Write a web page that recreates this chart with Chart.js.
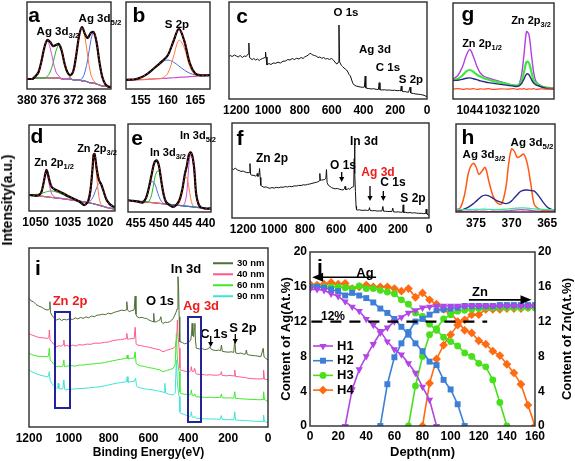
<!DOCTYPE html>
<html>
<head>
<meta charset="utf-8">
<script src="https://cdn.jsdelivr.net/npm/chart.js@4.4.1/dist/chart.umd.min.js"></script>
<style>
  html, body { margin: 0; padding: 0; background: #fff; }
  #stage { position: relative; width: 575px; height: 461px; overflow: hidden;
           font-family: "Liberation Sans", Arial, sans-serif; font-weight: bold; color: #000; }
  #stage canvas { position: absolute; }
  .lbl { position: absolute; white-space: nowrap; line-height: 1; transform: translate(-50%, -50%); }
  .lbl sub { font-size: 68%; vertical-align: baseline; position: relative; top: 0.4em; }
  .leg { position: absolute; left: 213px; font-size: 9.5px; line-height: 1; white-space: nowrap; transform: translateY(-50%); }
  .leg span { display: inline-block; width: 20px; border-top: 2px solid; vertical-align: middle; margin-right: 4px; }
  #marks { position: absolute; left: 0; top: 0; }
</style>
</head>
<body>
<div id="stage"></div>
<script>
// ---------- panel a : Ag 3d fit ----------
const aEnergy = [380,379.5,379,378.5,378,377.5,377,376.5,376,375.5,375,374.5,374,373.5,373,372.5,372,371.5,371,370.5,370,369.5,369,368.5,368,367.5,367,366.5,366,365.5];
const aEnvelope = [10,10,10.3,13,17,28,41.5,49,47,43,44,45,38,25,16.5,14,18,34,53.5,62,55,51,56,57,47,27,12,5,2.5,2];
const aBackground = [10,10,10,11,11,11,11,11,11,11,11,11,10,10,10,10,9,9,9,8,8,7,6,6,5,4,3,3,2,2];
const aMagenta = [10,10,10,13,17,28,41,48,41,28,17,13,10.5,10,10,10,9,9,9,8,8,7,6,6,5,4,3,3,2,2];
const aGreen = [10,10,10,11,11,11,11,12.5,17,26,38,44,37,25,16,11.5,9,9,9,8,8,7,6,6,5,4,3,3,2,2];
const aOrange = [10,10,10,11,11,11,11,11,11,11,11,11,10,10,10.4,12.4,18,34,53,62,52,32,15,8.4,5.4,4,3,3,2,2];
const aBlue = [10,10,10,11,11,11,11,11,11,11,11,11,10,10,10,10,9,9,9.4,10.2,17,30,48,57,47,27,12,5.2,2.4,2];

// ---------- panel b : S 2p fit ----------
const bEnergy = [152,153,154,155,156,157,158,159,160,161,162,163,164,165,166,167,168];
const bEnvelope = [10.1,10.3,10.8,12.8,15.9,20.6,25.8,31,37.6,52.7,66.4,52.8,28.4,17.1,15.1,15.1,15.5];
const bBlue = [10.1,10.3,10.8,12.8,15.9,20.6,25.8,30.4,31.9,29.7,25.4,20.8,17.4,15.5,15,15.1,15.5];
const bOrange = [10,10,10,10.3,10.6,11,11.3,12.2,17.7,35.4,53.8,45.2,24.6,15.6,14.6,15,15.5];
const bMagenta = [10,10,10,10.3,10.6,11,11.3,11.6,12,12.4,12.8,13.2,13.6,14,14.5,15,15.5];

// ---------- panel c : survey [eV, counts] ----------
const cSurvey = [[1250,42],[1238,43.5],[1226,42.5],[1212,44],[1200,43],[1188,42],[1176,43.5],[1162,41.5],[1150,43],[1138,42.5],[1131,44],[1125,45],[1121,56],[1117,42],[1112,40.5],[1100,39.5],[1090,40.5],[1078,39],[1066,40],[1056,38.5],[1046,39.7],[1036,40.5],[1026,41],[1019,41.7],[1016,47],[1013,42],[1007,34],[995,35.5],[982,34.5],[968,36],[952,35.7],[938,36.8],[922,36],[906,37.8],[890,38],[876,39.5],[862,39],[848,40.5],[834,39.5],[820,40.8],[806,40],[792,41.5],[780,40.5],[770,42],[758,43],[746,44],[736,45.8],[728,45],[718,44],[708,43.5],[698,43],[686,41.5],[674,42],[662,40.7],[650,41.5],[638,40],[626,40.5],[614,39.5],[602,40.5],[594,39.7],[584,38],[574,35.7],[566,35],[558,37],[554,74],[550,37.3],[544,35],[538,33.5],[530,32.3],[522,31],[514,30],[506,29],[498,27],[490,24.5],[482,23],[474,19],[466,15.7],[458,14],[446,13],[434,12.5],[420,12],[404,11.7],[394,12],[389,23],[385,11],[379,10.7],[366,10.5],[352,10],[336,10.3],[320,9.7],[306,9.5],[301,16.3],[296,9.2],[284,9],[268,9.3],[252,8.8],[236,9],[220,8.6],[204,8.8],[188,8.3],[174,8.5],[166,8],[162,13],[158,8],[152,7.3],[140,7.5],[128,7],[116,6.8],[106,12],[102,6],[97,5.7],[84,5.5],[70,5],[56,4.8],[42,4.5],[25,4],[12,3.2],[0,2.3]];

// ---------- panel d : Zn 2p fit ----------
const dEnergy = [1053,1051,1049,1047.5,1046.5,1045.5,1045,1044.5,1043.5,1042.5,1041,1039,1037,1035,1033,1031,1029,1027.5,1026.5,1025.5,1024.5,1023.5,1023,1022.5,1021.5,1020.5,1019.5,1018.5,1017,1015.5,1014,1013];
const dEnvelope = [16,15.6,15.5,18,26,37,41,39,30,24,21.5,19.5,17.5,15,13,11,8.5,6,7,10,20,42,56,57,42,31,27,21,11.5,7,4.6,4];
const dBackground = [16,15.6,15.2,14.8,14.6,14.3,14.2,14,13.8,13.5,13.2,12.7,12.2,11.6,11,10.3,9.6,9,8.7,8.4,8,7.5,7.2,7,6.4,5.8,5.2,4.6,3.7,2.8,2.2,2];
const dMagenta = [16,15.6,15.2,17.5,26,36.5,37.7,35,25,17,13.8,12.7,12.2,11.6,11,10.3,9.6,9,8.7,8.4,8,7.5,7.2,7,6.4,5.8,5.2,4.6,3.7,2.8,2.2,2];
const dGreen = [16,16.3,16.8,17.5,18.2,18.8,19.2,19.5,19.9,20,19.5,18,16,13.8,12,10.8,9.8,9.1,8.7,8.4,8,7.5,7.2,7,6.4,5.8,5.2,4.6,3.7,2.8,2.2,2];
const dOrange = [16,15.6,15.2,14.8,14.6,14.3,14.2,14,13.8,13.5,13.2,12.7,12.2,11.6,11,10.3,9.6,9,8.7,9,16,38,52,54,34,14,6.5,4.8,3.7,2.8,2.2,2];
const dBlue = [16,15.6,15.2,14.8,14.6,14.3,14.2,14,13.8,13.5,13.2,12.7,12.2,11.6,11,10.3,9.6,9,8.7,8.6,10,13,15,18,23.5,27.5,26,20,11,6,3,2.2];

// ---------- panel e : In 3d fit ----------
const eEnergy = [456.7,455.5,454.5,453.5,452.8,452.2,451.6,451,450.5,450,449.5,449,448.5,447.8,447,446.3,445.6,445,444.5,444,443.6,443.2,442.8,442.4,442,441.5,441,440,439,438.8];
const eEnvelope = [11.5,11,10.2,9.5,14,24,37,49,51,45,30,17,10,7,5,7,12,22,36,46,56,59,55,42,18,8,4.5,3.3,3.6,4];
const eBackground = [11.5,11,10.6,10.2,9.9,9.6,9.3,9,8.8,8.6,8.3,8.1,7.8,7.5,7.1,6.8,6.5,6.2,5.9,5.7,5.5,5.3,5.1,4.9,4.7,4.4,4.2,3.6,3,2.9];
const eBlue = [11.5,11,10.6,11,15,24,30,28.5,22,15,10.5,8.5,7.8,7.5,7.1,6.8,6.5,6.2,5.9,5.7,5.5,5.3,5.1,4.9,4.7,4.4,4.2,3.6,3,2.9];
const eGreen = [11.5,11,10.6,10.2,9.9,10.5,17,32,40,40,29,16,10,8,7.1,6.8,6.5,6.2,5.9,5.7,5.5,5.3,5.1,4.9,4.7,4.4,4.2,3.6,3,2.9];
const eOrange = [11.5,11,10.6,10.2,9.9,9.6,9.3,9,8.8,8.6,8.3,8.1,7.8,7.5,7.1,6.8,9,20,33,34,25,14,7,4.9,4.7,4.4,4.2,3.6,3,2.9];
const eMagenta = [11.5,11,10.6,10.2,9.9,9.6,9.3,9,8.8,8.6,8.3,8.1,7.8,7.5,7.1,6.8,6.5,6.2,8,20,45,57,53,38,16,6,4.2,3.6,3,2.9];

// ---------- panel f : survey [eV, counts] ----------
const fSurvey = [[1275,50],[1262,49],[1250,50.5],[1238,48.5],[1226,48],[1214,47],[1200,47.5],[1188,46.5],[1176,46],[1168,45.7],[1160,46],[1156,55],[1152,44],[1144,43.3],[1130,43],[1118,42.3],[1112,43],[1109,45],[1105,42],[1098,43],[1094,50],[1090,41],[1086,33],[1080,32.3],[1066,31],[1052,31.5],[1040,30.5],[1028,30],[1014,30.8],[1000,30.2],[986,31],[970,30.5],[956,31.3],[942,31],[928,31.8],[914,31.3],[900,32],[886,31.6],[870,32.5],[856,32.3],[842,33],[826,32.8],[812,33.6],[798,33.3],[784,34],[770,34.3],[756,35],[742,35.5],[728,36],[716,36.7],[708,37.5],[705,45],[701,38],[695,38.3],[684,38.5],[673,39],[666,40],[662,49],[658,36],[651,33.3],[640,32],[630,30.8],[619,30],[606,29.5],[592,29.8],[576,29],[566,28.6],[555,28.3],[546,29.5],[542,32],[538,28.8],[528,29],[518,29.8],[512,29],[504,30.5],[496,31],[490,31.7],[486,32.5],[483,60],[481,75],[478,45],[475,26.7],[471,12],[468,8.3],[460,8],[448,8.3],[438,7.8],[426,7.7],[412,8],[398,7.6],[388,8],[384,10.5],[380,7.6],[366,7.3],[350,7.5],[334,7],[318,7.2],[304,7],[298,11.7],[293,6.8],[280,6.9],[266,6.5],[252,6.7],[240,6.4],[234,10],[229,6.2],[214,6],[198,6.2],[182,5.8],[170,6],[167,13.3],[163,5.5],[150,5.7],[136,5.2],[122,5.5],[108,5],[94,5.3],[82,5],[66,4.7],[50,4.8],[36,4.4],[22,4.5],[18,9],[14,4],[6,3.2],[0,2.3]];

// ---------- panel g : Zn 2p depth ----------
const gEnergy = [1051,1049,1047,1045.5,1044,1042.5,1041,1039.5,1038,1036,1034,1031,1028,1025.5,1024,1023,1022,1021,1020,1019,1018,1017,1016,1014,1012,1010,1008.4];
const gMagenta = [20,24,33,44,50,43,33,26,23,21,19.5,17.5,15.5,14,13.7,16,26,47,68,65,46,27,17.7,13.5,12,11.5,11];
const gGreen = [19.3,20.5,24,28,29.3,27.5,24.5,22.7,21,19.5,18,16.5,15,13.8,13.3,14.5,19,28,37.5,36.5,28,19,16,13,11.5,10.5,10];
const gNavy = [18.7,19,20,21,21.3,20.5,19.5,18.3,17.5,16.5,15.8,14.8,13.8,13,12.7,13.5,16,20.5,25.3,24.5,20,16,14.3,12.5,11,10.5,10];
const gRed = [10,10.5,9.8,10.3,10,10.5,9.8,10.2,10,10.4,9.7,10.2,10,10.4,9.8,10.3,10,10.5,9.7,10.2,10,10.4,9.8,10.3,9.9,10.2,10];

// ---------- panel h : Ag 3d depth ----------
const hEnergy = [377.8,377.2,376.6,376,375.4,375,374.6,374.2,373.7,373.2,372.6,372,371.4,370.8,370.4,370,369.6,369.2,368.8,368.3,367.8,367.3,366.8,366.2,365.6,365,364.4,363.9];
const hOrange = [2.3,4,17,40,48,45,37.3,40,44,30.7,15.7,9,8,24,48,62.3,60,54,55,57.3,48,28,7.3,3,1.8,1.3,1,0.7];
const hNavy = [0.7,1.5,3,5,8,10.5,13,15.5,16.7,16,13.5,11,9.5,8.3,9,11,14,17,20,21.5,21.7,21.2,20.7,16,10,5,2.5,2];
const hGreen = [2.3,2.5,2.2,2.6,2.4,2.8,2.5,2.9,2.7,2.6,2.4,2.3,2.6,2.8,3,3.3,3.6,3.9,4,4.1,3.8,3.4,3,2.7,2.5,2.4,2.3,2.3];
const hMagenta = [0.5,0.8,0.3,0.9,0.6,1,0.5,0.9,0.7,0.4,0.8,0.5,0.9,1,1.2,1.5,1.8,2,2.3,2.2,2,1.6,1.2,0.8,0.5,0.3,0.6,0.4];

// ---------- panel i : surveys at depth [eV, counts] ----------
const iNames = ['30 nm', '40 nm', '60 nm', '90 nm'];
const iColors = ['#4f6e36', '#ff5a8c', '#3fea2a', '#3fe3d3'];
const i30 = [[1200,71.9],[1190,70.5],[1178,70],[1165,68.5],[1150,67.5],[1138,67],[1128,66.3],[1115,65.5],[1103,65.4],[1098,66],[1095,70],[1092,64],[1086,62.6],[1075,61],[1061,59.8],[1048,60.5],[1036,59.5],[1024,60.2],[1011,59.8],[996,60.5],[982,60],[968,61],[955,60.4],[942,61.2],[928,60.7],[914,61.5],[900,61],[886,62],[872,61.6],[858,62.5],[844,62.6],[830,63],[816,62.8],[802,63.6],[788,63.2],[774,64],[761,64.4],[748,64.8],[736,65.3],[722,65],[712,65.4],[709,70],[705,65.5],[697,64.4],[685,65],[672,65.4],[667,73.2],[663,63],[657,61.6],[645,61],[632,61.3],[620,60.7],[610,60.7],[598,59.8],[586,59.2],[577,58.8],[574,63.5],[570,58.6],[560,58.8],[550,59.5],[543,59.8],[538,61.6],[534,58.5],[527,57.9],[516,58.5],[505,58.4],[493,58.8],[483,59.8],[476,60.7],[470,62],[462,64],[456,66],[452,84],[449,78],[446,61.6],[443,47.7],[430,47.2],[420,46.5],[410,46.7],[398,47.5],[388,48.5],[384,52],[381,57.9],[377,51],[373,50.4],[370,55],[367,57.9],[364,48],[360,44],[345,43.6],[330,43.8],[318,43.2],[309,43.4],[298,43.8],[292,44.9],[286,43.5],[276,43],[262,42.7],[248,43],[238,42.6],[234,45.8],[229,42.2],[215,42],[200,41.8],[185,42],[172,41.7],[167,48.6],[162,41.4],[150,41],[136,41.3],[122,40.7],[112,40.8],[109,43],[104,40.5],[94,40.2],[80,40],[64,39.8],[50,39.6],[36,39.3],[24,44],[20,39.2],[12,38.4],[0,37.4]];
const i40 = [[1200,52.3],[1188,51.5],[1175,51],[1160,50.3],[1145,50],[1130,49.8],[1115,49.6],[1105,49.5],[1100,50],[1098,54.2],[1094,48.5],[1086,47.7],[1075,46],[1061,44.9],[1048,45.5],[1040,45],[1032,45.8],[1028,46],[1025,48.6],[1022,45.2],[1010,45.5],[995,45],[980,45.8],[965,45.2],[950,46],[928,45.8],[910,46.3],[890,46.2],[870,46.8],[844,46.8],[820,47.3],[800,47.5],[780,48.2],[761,48.6],[740,48.8],[720,49.2],[712,49.5],[709,52.3],[705,49],[690,49.3],[672,49.5],[667,55.7],[662,46.5],[657,45.8],[640,45.5],[620,45],[600,44.6],[577,44],[560,43.5],[545,43.2],[527,42],[510,42.8],[490,43.5],[476,44],[465,45],[458,50],[455,59.8],[451,50],[446,44],[442,33],[440,31.8],[425,31.4],[410,31],[393,30.9],[388,31.5],[385,33.7],[381,31],[372,31.2],[368,32.8],[364,30.5],[360,29.6],[340,29.4],[320,29.2],[309,29],[290,29.2],[270,28.9],[250,29],[238,29.3],[234,30.9],[230,28.8],[210,28.6],[190,28.8],[170,28.5],[167,31.8],[163,28.2],[150,28.1],[130,27.8],[112,27.6],[100,27.2],[80,27],[60,26.9],[40,26.8],[25,27],[22,31.8],[18,26.7],[13,26.6],[0,26.3]];
const i60 = [[1200,41.2],[1188,40.5],[1175,40],[1160,39.6],[1145,39.3],[1130,39.4],[1111,39.3],[1102,39.6],[1098,44],[1094,37.5],[1086,36.5],[1075,35],[1061,33.7],[1050,34],[1040,33.6],[1030,34],[1025,37.4],[1022,33.8],[1010,34],[990,34.3],[970,34],[950,34.6],[928,34.6],[905,35],[880,35.2],[860,35.5],[844,35.6],[820,36],[800,36.5],[780,37],[761,37.4],[740,37.8],[720,38.2],[710,38.4],[707,40.2],[703,38],[690,38.3],[672,38.5],[667,42],[662,35.5],[657,35],[640,34.2],[620,33.8],[600,33.2],[577,32.8],[560,32.3],[545,32],[527,30.9],[510,31.5],[490,32.2],[476,32.8],[466,35],[460,52.3],[456,40],[450,33],[446,31],[442,19.5],[440,18.8],[425,18.4],[410,18.2],[393,17.9],[388,18.5],[385,20.7],[381,17.8],[372,17.6],[368,18.5],[364,17.2],[360,16.9],[340,16.7],[320,16.6],[309,16.5],[290,16.6],[270,16.4],[250,16.5],[238,16.6],[234,18.5],[230,16.3],[210,16.2],[190,16.3],[172,16.1],[167,19.7],[163,16],[150,15.9],[130,15.7],[112,15.6],[100,15.5],[80,15.4],[60,15.3],[40,15.2],[25,15.4],[22,19.7],[18,15.2],[13,15.1],[0,14.1]];
const i90 = [[1200,31.8],[1188,31],[1175,30.3],[1160,29.6],[1145,29],[1130,28.6],[1111,28.1],[1102,28.4],[1098,30.9],[1094,26],[1086,24.4],[1075,23],[1061,21.6],[1056,22],[1053,24.4],[1050,21.5],[1040,21.2],[1030,21.4],[1025,26.3],[1021,21],[1018,20.7],[1000,21],[980,21.2],[955,21.4],[928,21.6],[900,21.8],[870,22.2],[844,22.5],[820,23],[800,23.5],[780,24],[761,24.4],[740,24.8],[720,25.1],[710,25.3],[707,28.1],[703,25],[690,25.3],[672,25.5],[665,27.2],[660,23],[657,22.5],[640,21.8],[620,21.3],[600,21],[577,20.7],[560,20.3],[545,20],[527,19.5],[522,19.3],[518,24.4],[514,19],[500,18.4],[490,18.2],[476,17.9],[466,19],[460,37.4],[455,25],[450,19],[446,17],[442,8.5],[440,7.7],[425,7.2],[410,6.5],[393,5.8],[388,6.3],[385,8.5],[381,5.5],[372,5.3],[368,6],[364,5.1],[360,4.9],[340,4.7],[320,4.6],[300,4.5],[280,4.5],[260,4.4],[240,4.3],[234,6.4],[230,4.2],[210,4.1],[190,4.1],[172,4],[167,8.5],[163,3.9],[150,3.8],[130,3.7],[112,3.6],[100,3.5],[80,3.3],[60,3.2],[40,3.1],[25,3.1],[22,6.7],[18,3],[13,3],[0,2.4]];

// ---------- panel j : depth profiles (At.%) ----------
const depth = [0,5,10,15,20,25,30,35,40,45,50,55,60,65,70,75,80,85,90,95,100,105,110,115,120,125,130,135,140,145,150,155,160];
const h1Ag = [15.7,15.7,15.6,15.2,14.9,14.3,13.7,13.2,12.3,11.6,10.9,9.7,8.8,8.2,7.2,6.1,4.5,3.0,0,null,null,null,null,null,null,null,null,null,null,null,null,null,null];
const h1Zn = [null,null,null,null,null,0,4.2,6.5,8.0,9.4,10.7,11.3,12.0,12.5,13.0,13.3,13.6,13.7,13.8,13.8,13.8,13.8,13.8,13.8,13.8,13.8,13.8,13.8,13.8,13.8,13.8,13.8,13.8];
const h2Ag = [16.0,16.0,15.9,15.7,15.5,15.0,15.3,15.0,14.7,14.2,13.5,13.0,12.3,11.4,10.5,9.5,8.6,7.4,7.0,5.3,4.2,2.5,0,null,null,null,null,null,null,null,null,null,null];
const h2Zn = [null,null,null,null,null,null,null,null,null,null,0,4.8,7.9,9.5,10.8,12.0,12.3,12.8,13.3,13.4,13.5,13.6,13.8,13.8,13.8,13.8,13.8,13.9,13.9,13.9,13.9,13.9,13.9];
const h3Ag = [16.0,16.0,16.0,16.0,16.0,15.9,15.8,16.1,15.8,15.8,15.6,15.4,15.2,14.5,14.0,13.0,12.6,11.7,11.0,10.2,9.7,9.2,8.4,8.0,7.2,6.8,5.3,2.7,0,null,null,null,null];
const h3Zn = [null,null,null,null,null,null,null,null,null,null,null,null,null,null,0,4.6,8.0,10.5,11.2,12.3,12.8,13.2,13.3,13.4,13.5,13.6,13.6,13.6,13.6,13.6,13.6,13.6,13.6];
const h4Ag = [16.3,16.2,16.3,16.5,16.3,16.4,15.8,16.0,16.2,16.0,16.0,16.0,15.8,15.5,15.8,14.8,15.3,14.5,14.0,13.4,13.0,12.0,11.0,10.7,9.8,9.4,8.6,8.1,7.1,6.1,4.8,2.4,0];
const h4Zn = [null,null,null,null,null,null,null,null,null,null,null,null,null,null,null,null,0,4.9,7.7,9.3,10.5,11.6,12.2,12.8,12.8,13.4,13.4,13.4,13.5,13.5,13.5,13.6,13.6];
const threshold = 12;
const thresholdSpan = [1, 126];

// ---------- tick labels ----------
const aTicks = [380, 376, 372, 368];
const bTicks = [155, 160, 165];
const surveyTicks = [1200, 1000, 800, 600, 400, 200, 0];
const dTicks = [1050, 1035, 1020];
const eTicks = [455, 450, 445, 440];
const gTicks = [1044, 1032, 1020];
const hTicks = [375, 370, 365];

// ================= drawing =================
Chart.defaults.font.family = '"Liberation Sans", Arial, sans-serif';
Chart.defaults.font.weight = 'bold';
Chart.defaults.color = '#000';

const stage = document.getElementById('stage');
const plainNumber = v => String(v); // no thousands separator

const frame = {
  id: 'frame',
  afterDatasetsDraw(chart) {
    const a = chart.chartArea, ctx = chart.ctx;
    ctx.save();
    ctx.strokeStyle = '#2b2b2b';
    ctx.lineWidth = 1.4;
    ctx.strokeRect(a.left, a.top, a.right - a.left, a.bottom - a.top);
    ctx.restore();
  }
};

function pts(xs, ys) { return xs.map((x, k) => ({ x: x, y: ys[k] })); }
function pairs(list) { return list.map(p => ({ x: p[0], y: p[1] })); }
function curve(data, color, width, more) {
  return Object.assign({ data: data, borderColor: color, borderWidth: width, pointRadius: 0, tension: 0.35, fill: false }, more || {});
}
// fitted XPS peak: envelope on top (black + red dots), then components, then background
function fitSets(xs, env, parts, bg, bgColor) {
  const sets = [
    curve(pts(xs, env), '#e8242a', 1, { borderDash: [1.5, 2.5] }),
    curve(pts(xs, env), '#000', 2.2)
  ];
  parts.forEach(p => sets.push(curve(pts(xs, p[0]), p[1], 1)));
  sets.push(curve(pts(xs, bg), bgColor || '#30308f', 1.2));
  return sets;
}

function addPanel(o) {
  const padL = o.padL ?? 22, padR = o.padR ?? 22, padT = o.padT ?? 4, axisH = o.axisH ?? 20;
  const [l, t, r, b] = o.box;
  const cv = document.createElement('canvas');
  cv.width = r - l + padL + padR;
  cv.height = b - t + padT + axisH;
  cv.style.left = (l - padL) + 'px';
  cv.style.top = (t - padT) + 'px';
  stage.appendChild(cv);
  const xScale = {
    type: 'linear', min: o.xRange[0], max: o.xRange[1], reverse: !!o.reverse,
    grid: { display: false, drawTicks: false }, border: { display: false },
    ticks: { font: { size: o.tickSize || 12, weight: 'bold' }, padding: o.tickPad ?? 4, maxRotation: 0, autoSkip: false,
             callback: plainNumber },
    afterBuildTicks: s => { s.ticks = o.ticks.map(v => ({ value: v })); },
    afterFit: s => { s.height = axisH; }
  };
  if (o.title) {
    xScale.title = { display: true, text: o.title, font: { size: 12, weight: 'bold' }, padding: { top: 0, bottom: 1 } };
  }
  return new Chart(cv, {
    type: 'line',
    data: { datasets: o.datasets },
    options: {
      responsive: false, animation: false, events: [],
      layout: { padding: { left: padL, right: padR, top: padT, bottom: 0 } },
      plugins: { legend: { display: false }, tooltip: { enabled: false } },
      scales: { x: xScale, y: { display: false, min: 0, max: o.yMax } }
    },
    plugins: [frame]
  });
}

// a
addPanel({ box: [27, 2, 111, 89], xRange: [365.5, 380], reverse: true, ticks: aTicks, yMax: 87,
  datasets: fitSets(aEnergy, aEnvelope, [[aMagenta, '#d14fd1'], [aGreen, '#23b323'], [aOrange, '#ff7a3a'], [aBlue, '#4a6ee0']], aBackground) });
// b
addPanel({ box: [126, 2, 210, 89], xRange: [152.3, 167.7], ticks: bTicks, yMax: 96,
  datasets: fitSets(bEnergy, bEnvelope, [[bOrange, '#ff7a3a'], [bBlue, '#4a6ee0']], bMagenta, '#d14fd1') });
// c
addPanel({ box: [229, 2, 427, 99], xRange: [0, 1246], reverse: true, ticks: surveyTicks, yMax: 97,
  datasets: [curve(pairs(cSurvey), '#111', 1, { tension: 0 })] });
// g
addPanel({ box: [453, 3, 554, 99], xRange: [1008.4, 1051.1], reverse: true, ticks: gTicks, yMax: 97,
  datasets: [curve(pts(gEnergy, gRed), '#ff4a1e', 1.2), curve(pts(gEnergy, gNavy), '#27278a', 1.4),
             curve(pts(gEnergy, gGreen), '#3ce83c', 2.2), curve(pts(gEnergy, gMagenta), '#b43ee0', 1.4)] });
// d
addPanel({ box: [29, 125, 115, 211], xRange: [1013, 1053.1], reverse: true, ticks: dTicks, yMax: 86,
  datasets: fitSets(dEnergy, dEnvelope, [[dMagenta, '#d14fd1'], [dGreen, '#23b323'], [dOrange, '#ff7a3a'], [dBlue, '#4a6ee0']], dBackground) });
// e
addPanel({ box: [128, 124, 211, 212], xRange: [438.8, 456.7], reverse: true, ticks: eTicks, yMax: 87,
  datasets: fitSets(eEnergy, eEnvelope, [[eBlue, '#4a6ee0'], [eGreen, '#23b323'], [eOrange, '#ff7a3a'], [eMagenta, '#d14fd1']], eBackground) });
// f
addPanel({ box: [232, 123, 429, 218], xRange: [0, 1272], reverse: true, ticks: surveyTicks, yMax: 96,
  datasets: [curve(pairs(fSurvey), '#111', 1, { tension: 0 })] });
// h
addPanel({ box: [456, 124, 555, 212], xRange: [363.9, 377.8], reverse: true, ticks: hTicks, yMax: 87,
  datasets: [curve(pts(hEnergy, hMagenta), '#c843c8', 1.3), curve(pts(hEnergy, hGreen), '#3ee69a', 1.3),
             curve(pts(hEnergy, hNavy), '#2a2a8c', 1.4), curve(pts(hEnergy, hOrange), '#ff5a14', 1.5)] });
// i
addPanel({ box: [29, 248, 268, 427], xRange: [0, 1200], reverse: true, ticks: surveyTicks, yMax: 100,
  padL: 26, padR: 14, padT: 4, axisH: 34, title: 'Binding Energy(eV)',
  datasets: [i90, i60, i40, i30].map((s, k) => curve(pairs(s), iColors[3 - k], 1, { tension: 0 })) });

// j : dual axis depth profile
const jStyles = [
  { name: 'H1', color: '#b145e6', style: 'triangle', rot: 180, r: 4.2 },
  { name: 'H2', color: '#3d7fd6', style: 'rect', rot: 0, r: 4.2 },
  { name: 'H3', color: '#47e01a', style: 'circle', rot: 0, r: 3.4 },
  { name: 'H4', color: '#ff6b12', style: 'rectRot', rot: 0, r: 4.4 }
];
const agSets = [h1Ag, h2Ag, h3Ag, h4Ag];
const znSets = [h1Zn, h2Zn, h3Zn, h4Zn];
const jArrows = [{ from: 47, to: 1.5, at: 17.1 }, { from: 113, to: 157.5, at: 14.5 }];

function depthSeries(vals) {
  return depth.map((d, k) => ({ x: d, y: vals[k] })).filter(p => p.y !== null);
}
const jData = [{ data: thresholdSpan.map(d => ({ x: d, y: threshold })), borderColor: '#000', borderWidth: 2.2,
                 borderDash: [11, 8], pointRadius: 0, yAxisID: 'y' }];
jStyles.forEach((s, k) => {
  [agSets[k], znSets[k]].forEach((vals, side) => {
    jData.push({ label: s.name, data: depthSeries(vals), yAxisID: side ? 'y1' : 'y',
      borderColor: s.color, backgroundColor: s.color, borderWidth: 1.6, tension: 0,
      pointStyle: s.style, pointRotation: s.rot, pointRadius: s.r, pointBorderWidth: 0 });
  });
});

const jMarks = {
  id: 'jMarks',
  afterDatasetsDraw(chart) {
    const ctx = chart.ctx, xs = chart.scales.x, ys = chart.scales.y;
    ctx.save();
    ctx.fillStyle = '#000'; ctx.strokeStyle = '#000'; ctx.lineWidth = 1.6;
    jArrows.forEach(a => {
      const x0 = xs.getPixelForValue(a.from), x1 = xs.getPixelForValue(a.to), y = ys.getPixelForValue(a.at);
      const dir = x1 > x0 ? 1 : -1;
      ctx.beginPath(); ctx.moveTo(x0, y); ctx.lineTo(x1 - dir * 9, y); ctx.stroke();
      ctx.beginPath(); ctx.moveTo(x1, y); ctx.lineTo(x1 - dir * 11, y - 4.5); ctx.lineTo(x1 - dir * 11, y + 4.5); ctx.closePath(); ctx.fill();
    });
    ctx.font = 'bold 13px "Liberation Sans", Arial, sans-serif';
    ctx.textBaseline = 'middle';
    jStyles.forEach((s, k) => {
      const y = 106 + k * 14.7;
      ctx.strokeStyle = s.color; ctx.fillStyle = s.color; ctx.lineWidth = 1.6;
      ctx.beginPath(); ctx.moveTo(37, y); ctx.lineTo(57, y); ctx.stroke();
      Chart.helpers.drawPoint(ctx, { pointStyle: s.style, rotation: s.rot, radius: s.r, borderWidth: 0 }, 47, y);
      ctx.fillStyle = '#000';
      ctx.fillText(s.name, 61, y);
    });
    ctx.restore();
  }
};

const jCv = document.createElement('canvas');
jCv.width = 299; jCv.height = 221;
jCv.style.left = '276px'; jCv.style.top = '240px';
stage.appendChild(jCv);
const noGrid = { display: false, drawTicks: false };
new Chart(jCv, {
  type: 'line',
  data: { datasets: jData },
  options: {
    responsive: false, animation: false, events: [],
    layout: { padding: { left: 0, right: 0, top: 12, bottom: 0 } },
    plugins: { legend: { display: false }, tooltip: { enabled: false } },
    scales: {
      x: { type: 'linear', min: 0, max: 160, grid: noGrid, border: { display: false },
           ticks: { stepSize: 20, font: { size: 12, weight: 'bold' }, padding: 3, maxRotation: 0, callback: plainNumber },
           title: { display: true, text: 'Depth(nm)', font: { size: 13, weight: 'bold' }, padding: { top: 0, bottom: 1 } },
           afterFit: s => { s.height = 35; } },
      y: { position: 'left', min: 0, max: 20, grid: noGrid, border: { display: false },
           ticks: { stepSize: 4, font: { size: 12, weight: 'bold' }, padding: 3, callback: plainNumber },
           title: { display: true, text: 'Content of Ag(At.%)', font: { size: 13, weight: 'bold' }, padding: { top: 3, bottom: 0 } },
           afterFit: s => { s.width = 34; } },
      y1: { position: 'right', min: 0, max: 20, grid: noGrid, border: { display: false },
            ticks: { stepSize: 4, font: { size: 12, weight: 'bold' }, padding: 3, callback: plainNumber },
            afterFit: s => { s.width = 40; } }
    }
  },
  plugins: [frame, jMarks]
});

// ---------- text annotations ----------
function label(html, x, y, size, color, rotate) {
  const d = document.createElement('div');
  d.className = 'lbl';
  d.innerHTML = html;
  d.style.left = x + 'px';
  d.style.top = y + 'px';
  d.style.fontSize = size + 'px';
  if (color) d.style.color = color;
  if (rotate) d.style.transform = 'translate(-50%, -50%) rotate(-90deg)';
  stage.appendChild(d);
}
const RED = '#ee1c1c';
[['a', 34, 14], ['b', 139, 14], ['c', 242, 15], ['g', 468, 13], ['d', 37, 135], ['e', 137, 137],
 ['f', 240, 137], ['h', 468, 136], ['i', 38, 267], ['j', 320, 266]].forEach(p => label(p[0], p[1], p[2], 21));

label('Ag 3d<sub>3/2</sub>', 58, 32, 11.5);
label('Ag 3d<sub>5/2</sub>', 100, 19, 11.5);
label('S 2p', 177, 25, 11.5);
label('O 1s', 346, 13, 11.5);
label('Ag 3d', 375, 50, 11.5);
label('C 1s', 388, 68, 11.5);
label('S 2p', 411, 80, 11.5);
label('Zn 2p<sub>1/2</sub>', 482, 43, 11);
label('Zn 2p<sub>3/2</sub>', 531, 20, 11);
label('Zn 2p<sub>1/2</sub>', 54, 162, 11);
label('Zn 2p<sub>3/2</sub>', 97, 148, 11);
label('In 3d<sub>3/2</sub>', 168, 152, 11);
label('In 3d<sub>5/2</sub>', 198, 135, 11);
label('Zn 2p', 272, 158, 12);
label('In 3d', 364, 141, 12);
label('O 1s', 343, 165, 12);
label('Ag 3d', 378, 172, 12, RED);
label('C 1s', 393, 182, 12);
label('S 2p', 413, 198, 12);
label('Ag 3d<sub>3/2</sub>', 484, 155, 11.5);
label('Ag 3d<sub>5/2</sub>', 532, 143, 11.5);
label('Zn 2p', 70, 300, 13, RED);
label('O 1s', 160, 300, 13);
label('In 3d', 186, 268, 13);
label('Ag 3d', 201, 305, 13, RED);
label('C 1s', 214, 333, 13);
label('S 2p', 243, 327, 13);
label('Ag', 365, 272, 13);
label('Zn', 480, 291, 13);
label('12%', 333, 316, 12);
label('Intensity(a.u.)', 7, 200, 14, null, true);
label('Content of Zn(At.%)', 566, 339, 13, null, true);

iNames.forEach((n, k) => {
  const d = document.createElement('div');
  d.className = 'leg';
  d.style.top = (263 + k * 11) + 'px';
  d.innerHTML = '<span style="border-top-color:' + iColors[k] + '"></span>' + n;
  stage.appendChild(d);
});

// arrows and highlight boxes
const arrows = [[341.7, 172, 182], [370, 186, 201], [383.3, 191, 201], [210.7, 336, 347], [235.3, 334, 344]];
const boxes = [[55, 312, 70, 408], [188, 317, 201, 422]];
let svg = '<svg id="marks" width="575" height="461" xmlns="http://www.w3.org/2000/svg">';
boxes.forEach(b => {
  svg += '<rect x="' + b[0] + '" y="' + b[1] + '" width="' + (b[2] - b[0]) + '" height="' + (b[3] - b[1]) +
         '" fill="none" stroke="#23239a" stroke-width="2"/>';
});
arrows.forEach(a => {
  svg += '<line x1="' + a[0] + '" y1="' + a[1] + '" x2="' + a[0] + '" y2="' + (a[2] - 4) + '" stroke="#000" stroke-width="1.3"/>';
  svg += '<polygon points="' + (a[0] - 2.6) + ',' + (a[2] - 5) + ' ' + (a[0] + 2.6) + ',' + (a[2] - 5) + ' ' + a[0] + ',' + a[2] + '" fill="#000"/>';
});
svg += '</svg>';
stage.insertAdjacentHTML('beforeend', svg);
</script>
</body>
</html>
